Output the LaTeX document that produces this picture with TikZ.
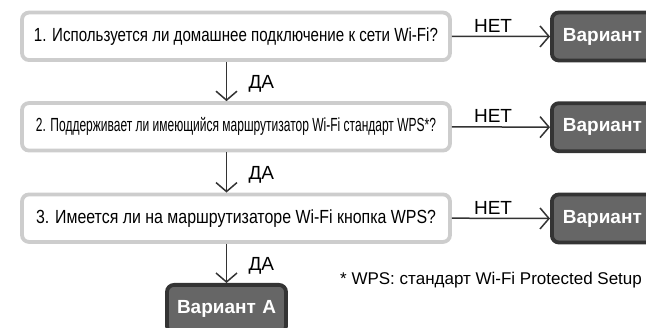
\documentclass[tikz,border=0pt]{standalone}
\usepackage{fontspec}
\setmainfont{Liberation Sans}
\usetikzlibrary{arrows.meta, positioning}
\definecolor{lightrim}{HTML}{CDCDCD}
\definecolor{darkrim}{HTML}{343434}
\definecolor{darkfill}{HTML}{666666}
\definecolor{arrowgray}{HTML}{333333}
\newlength\fitlen
\newcommand\fitto[2]{\settowidth\fitlen{#2}\pgfmathsetmacro\fitsc{#1/\fitlen}\scalebox{\fitsc}[1]{#2}}

\begin{document}
\begin{tikzpicture}[
  x=1pt, y=-1pt,
  question/.style={draw=lightrim, fill=white, line width=3.8pt, rounded corners=7pt,
                   minimum width=428pt, minimum height=47.5pt, inner sep=0pt,
                   font=\fontsize{19}{22}\selectfont},
  variant/.style={draw=darkrim, fill=darkfill, line width=3.8pt, rounded corners=7pt,
                  minimum height=48pt, text width=100pt, inner xsep=11pt, align=left,
                  text=white, font=\fontsize{19}{22}\selectfont\bfseries},
  arrow/.style={-{Straight Barb[length=9pt, width=21pt]}, line width=1.5pt, arrowgray},
  answer/.style={font=\fontsize{19}{22}\selectfont, text=black}
]
\clip (0,0) rectangle (646,328);

% questions
\node[question] (q1) at (236,36.3) {\fitto{404pt}{1. Используется ли домашнее подключение к сети Wi-Fi?}};
\node[question] (q2) at (236,126.8) {\fitto{400pt}{2. Поддерживает ли имеющийся маршрутизатор Wi-Fi стандарт WPS*?}};
\node[question] (q3) at (236,218.2) {\fitto{400pt}{3. Имеется ли на маршрутизаторе Wi-Fi кнопка WPS?}};

% variants
\node[variant, anchor=west] (v1) at (550,36.5) {Вариант};
\node[variant, anchor=west] (v2) at (550,127.2) {Вариант};
\node[variant, anchor=west] (v3) at (550,218.5) {Вариант};
\node[variant, anchor=north, text width=119pt, inner xsep=0pt, align=center] (va) at (226.5,283) {Вариант A};

\node[anchor=base west, inner sep=0pt, font=\fontsize{17}{20}\selectfont] (note) at (340,285) {* WPS: стандарт Wi-Fi Protected Setup};

% connectors
\draw[arrow] (q1.east) -- (v1.west) node[answer, pos=0.42, above=0pt] {НЕТ};
\draw[arrow] (q2.east) -- (v2.west) node[answer, pos=0.42, above=0pt] {НЕТ};
\draw[arrow] (q3.east) -- (v3.west) node[answer, pos=0.42, above=0pt] {НЕТ};

\draw[arrow] (q1.south -| va.north) -- (q2.north -| va.north) node[answer, midway, right=18pt, yshift=-2pt] {ДА};
\draw[arrow] (q2.south -| va.north) -- (q3.north -| va.north) node[answer, midway, right=18pt, yshift=-2pt] {ДА};
\draw[arrow] (q3.south -| va.north) -- (va.north) node[answer, midway, right=18pt, yshift=-2pt] {ДА};
\end{tikzpicture}
\end{document}
